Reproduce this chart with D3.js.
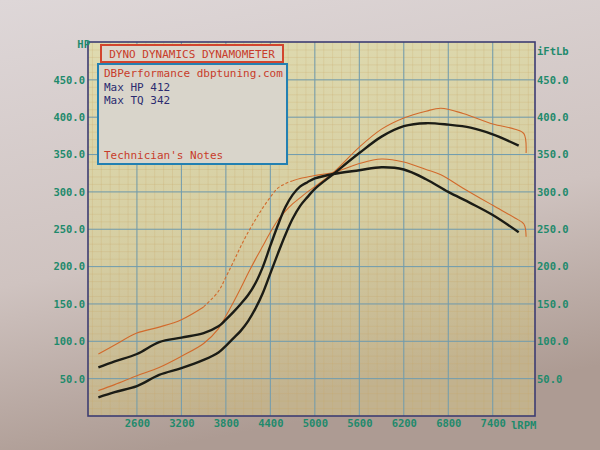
<!DOCTYPE html>
<html>
<head>
<meta charset="utf-8">
<script src="https://cdn.jsdelivr.net/npm/d3@7"></script>
<style>
  html, body { margin: 0; padding: 0; background: #d4cac6; }
  svg { display: block; }
</style>
</head>
<body>
<svg id="chart" width="600" height="450"></svg>
<script>
// ---- Data (read from the dyno sheet) ----
const rpmTicks = [2600, 3200, 3800, 4400, 5000, 5600, 6200, 6800, 7400];
const yTicks = [50, 100, 150, 200, 250, 300, 350, 400, 450];

// Run 1 (black, thick)
const rpm1 = [2080, 2300, 2600, 2900, 3200, 3500, 3700, 3800, 3900, 4000, 4100, 4200, 4300, 4400, 4500, 4600, 4700, 4800, 4900, 5000, 5250, 5600, 5900, 6200, 6500, 6800, 7100, 7400, 7750];
const hp1  = [25, 32, 40, 55, 64, 75, 85, 94, 104, 114, 127, 144, 165, 191, 217, 242, 264, 281, 293, 304, 324, 352, 374, 388, 392, 390, 386, 377, 362];
const tq1  = [65, 73, 83, 99, 105, 111, 120, 129, 139, 150, 162, 178, 200, 228, 255, 279, 296, 307, 313, 318, 324, 329, 333, 330, 317, 300, 285, 269, 246];

// Run 2 (orange, thin)
const rpm2 = [2080, 2300, 2600, 2900, 3200, 3500, 3700, 3800, 3900, 4000, 4100, 4200, 4300, 4400, 4500, 4600, 4700, 4800, 4900, 5000, 5250, 5600, 5900, 6200, 6500, 6700, 7000, 7400, 7700, 7820, 7850];
const hp2  = [34, 42, 54, 65, 80, 97, 117, 134, 152, 171, 191, 210, 228, 246, 262, 274, 284, 292, 300, 307, 326, 360, 384, 399, 408, 412, 405, 391, 384, 378, 352];
const tq2  = [83, 95, 111, 119, 129, 146, 167, 186, 206, 227, 246, 263, 279, 293, 305, 311, 315, 318, 320, 322, 326, 338, 344, 340, 330, 323, 305, 282, 265, 257, 240];

const titleText = "DYNO DYNAMICS DYNAMOMETER";
const infoLines = ["DBPerformance dbptuning.com", "Max HP 412", "Max TQ 342"];
const notesText = "Technician's Notes";

// ---- Drawing ----
const svg = d3.select("#chart");
const W = 600, H = 450;
const pLeft = 88, pRight = 535, pTop = 42, pBottom = 416;

const x = d3.scaleLinear().domain([1940, 7970]).range([pLeft, pRight]);
const y = d3.scaleLinear().domain([0, 500]).range([pBottom, pTop + 0.5]);

const defs = svg.append("defs");
const bg = defs.append("linearGradient").attr("id", "bg").attr("x1", 0).attr("y1", 0).attr("x2", 0.25).attr("y2", 1);
bg.append("stop").attr("offset", "0%").attr("stop-color", "#ded7d8");
bg.append("stop").attr("offset", "60%").attr("stop-color", "#cfc3c0");
bg.append("stop").attr("offset", "100%").attr("stop-color", "#ad9b93");
const pg = defs.append("linearGradient").attr("id", "pg").attr("x1", 0).attr("y1", 0).attr("x2", 0.2).attr("y2", 1);
pg.append("stop").attr("offset", "0%").attr("stop-color", "#dfdbb0");
pg.append("stop").attr("offset", "55%").attr("stop-color", "#d6cea2");
pg.append("stop").attr("offset", "100%").attr("stop-color", "#c2b28e");

svg.append("rect").attr("width", W).attr("height", H).attr("fill", "url(#bg)");
svg.append("rect").attr("x", pLeft).attr("y", pTop).attr("width", pRight - pLeft).attr("height", pBottom - pTop).attr("fill", "url(#pg)");

// minor grid
const minorX = d3.range(2600 - 120 * 5, 7970, 120).filter(v => v > 1940);
const minorY = d3.range(10, 500, 10);
const grid = svg.append("g");
grid.selectAll("line.mx").data(minorX).join("line")
  .attr("x1", d => x(d)).attr("x2", d => x(d)).attr("y1", pTop).attr("y2", pBottom)
  .attr("stroke", "#c8a86a").attr("stroke-opacity", 0.3).attr("stroke-width", 0.8);
grid.selectAll("line.my").data(minorY).join("line")
  .attr("x1", pLeft).attr("x2", pRight).attr("y1", d => y(d)).attr("y2", d => y(d))
  .attr("stroke", "#c8a86a").attr("stroke-opacity", 0.3).attr("stroke-width", 0.8);

// major grid
grid.selectAll("line.gx").data(rpmTicks).join("line")
  .attr("x1", d => x(d)).attr("x2", d => x(d)).attr("y1", pTop).attr("y2", pBottom)
  .attr("stroke", "#6f9cb0").attr("stroke-width", 1);
grid.selectAll("line.gy").data(yTicks).join("line")
  .attr("x1", pLeft).attr("x2", pRight).attr("y1", d => y(d)).attr("y2", d => y(d))
  .attr("stroke", "#6f9cb0").attr("stroke-width", 1);

// frame
svg.append("rect").attr("x", pLeft).attr("y", pTop).attr("width", pRight - pLeft).attr("height", pBottom - pTop)
  .attr("fill", "none").attr("stroke", "#3d3d72").attr("stroke-width", 1.6);

// axes labels via d3 axes
const fontMono = "'DejaVu Sans Mono', 'Liberation Mono', monospace";
const styleAxis = g => {
  g.select(".domain").remove();
  g.selectAll(".tick line").remove();
  g.selectAll(".tick text").attr("fill", "#1f8a6c").attr("font-family", fontMono)
    .attr("font-weight", "bold").attr("font-size", "10.5px");
};
svg.append("g").attr("transform", `translate(${pLeft},0)`)
  .call(d3.axisLeft(y).tickValues(yTicks).tickFormat(d3.format(".1f")).tickSize(0).tickPadding(3))
  .call(styleAxis);
svg.append("g").attr("transform", `translate(${pRight},0)`)
  .call(d3.axisRight(y).tickValues(yTicks).tickFormat(d3.format(".1f")).tickSize(0).tickPadding(2))
  .call(styleAxis);
svg.append("g").attr("transform", `translate(0,${pBottom})`)
  .call(d3.axisBottom(x).tickValues(rpmTicks).tickFormat(d3.format("d")).tickSize(0).tickPadding(4))
  .call(styleAxis);

const unit = (t, xx, yy, anchor) => svg.append("text").attr("x", xx).attr("y", yy).text(t)
  .attr("text-anchor", anchor).attr("fill", "#1f8a6c").attr("font-family", fontMono)
  .attr("font-weight", "bold").attr("font-size", "10.5px");
unit("HP", 90, 48, "end");
unit("iFtLb", 537, 55, "start");
unit("lRPM", 511, 429, "start");

// curves
const line = (xs, ys) => d3.line().x(i => x(xs[i])).y(i => y(ys[i])).curve(d3.curveCatmullRom.alpha(0.5));
const idx = arr => d3.range(arr.length);
const drawSeries = (xs, ys, color, width, dashFrom, dashTo) => {
  if (dashFrom === undefined) {
    svg.append("path").attr("d", line(xs, ys)(idx(xs))).attr("fill", "none")
      .attr("stroke", color).attr("stroke-width", width).attr("stroke-linejoin", "round");
  } else {
    const a = idx(xs).filter(i => xs[i] <= dashFrom);
    const b = idx(xs).filter(i => xs[i] >= dashFrom && xs[i] <= dashTo);
    const c = idx(xs).filter(i => xs[i] >= dashTo);
    [a, c].forEach(s => svg.append("path").attr("d", line(xs, ys)(s)).attr("fill", "none")
      .attr("stroke", color).attr("stroke-width", width));
    svg.append("path").attr("d", line(xs, ys)(b)).attr("fill", "none")
      .attr("stroke", color).attr("stroke-width", width).attr("stroke-dasharray", "3,2");
  }
};
drawSeries(rpm2, hp2, "#d26a2c", 1.1);
drawSeries(rpm2, tq2, "#d26a2c", 1.1, 3500, 4700);
drawSeries(rpm1, hp1, "#1b1c16", 2.4);
drawSeries(rpm1, tq1, "#1b1c16", 2.4);

// legend boxes
svg.append("rect").attr("x", 101).attr("y", 45).attr("width", 182).attr("height", 17)
  .attr("fill", "#dcd7cc").attr("stroke", "#d2452e").attr("stroke-width", 2);
svg.append("text").attr("x", 192).attr("y", 58).attr("text-anchor", "middle").text(titleText)
  .attr("fill", "#c83c2a").attr("font-family", fontMono).attr("font-size", "11px");
svg.append("rect").attr("x", 98).attr("y", 64).attr("width", 189).attr("height", 100)
  .attr("fill", "#d9d5cb").attr("stroke", "#2380b2").attr("stroke-width", 2);
const infoColors = ["#c83c2a", "#2b2b70", "#2b2b70"];
svg.selectAll("text.info").data(infoLines).join("text")
  .attr("x", 104).attr("y", (d, i) => 77 + i * 13.5).text(d => d)
  .attr("fill", (d, i) => infoColors[i]).attr("font-family", fontMono).attr("font-size", "11px");
svg.append("text").attr("x", 104).attr("y", 159).text(notesText)
  .attr("fill", "#c83c2a").attr("font-family", fontMono).attr("font-size", "11px");
</script>
</body>
</html>
